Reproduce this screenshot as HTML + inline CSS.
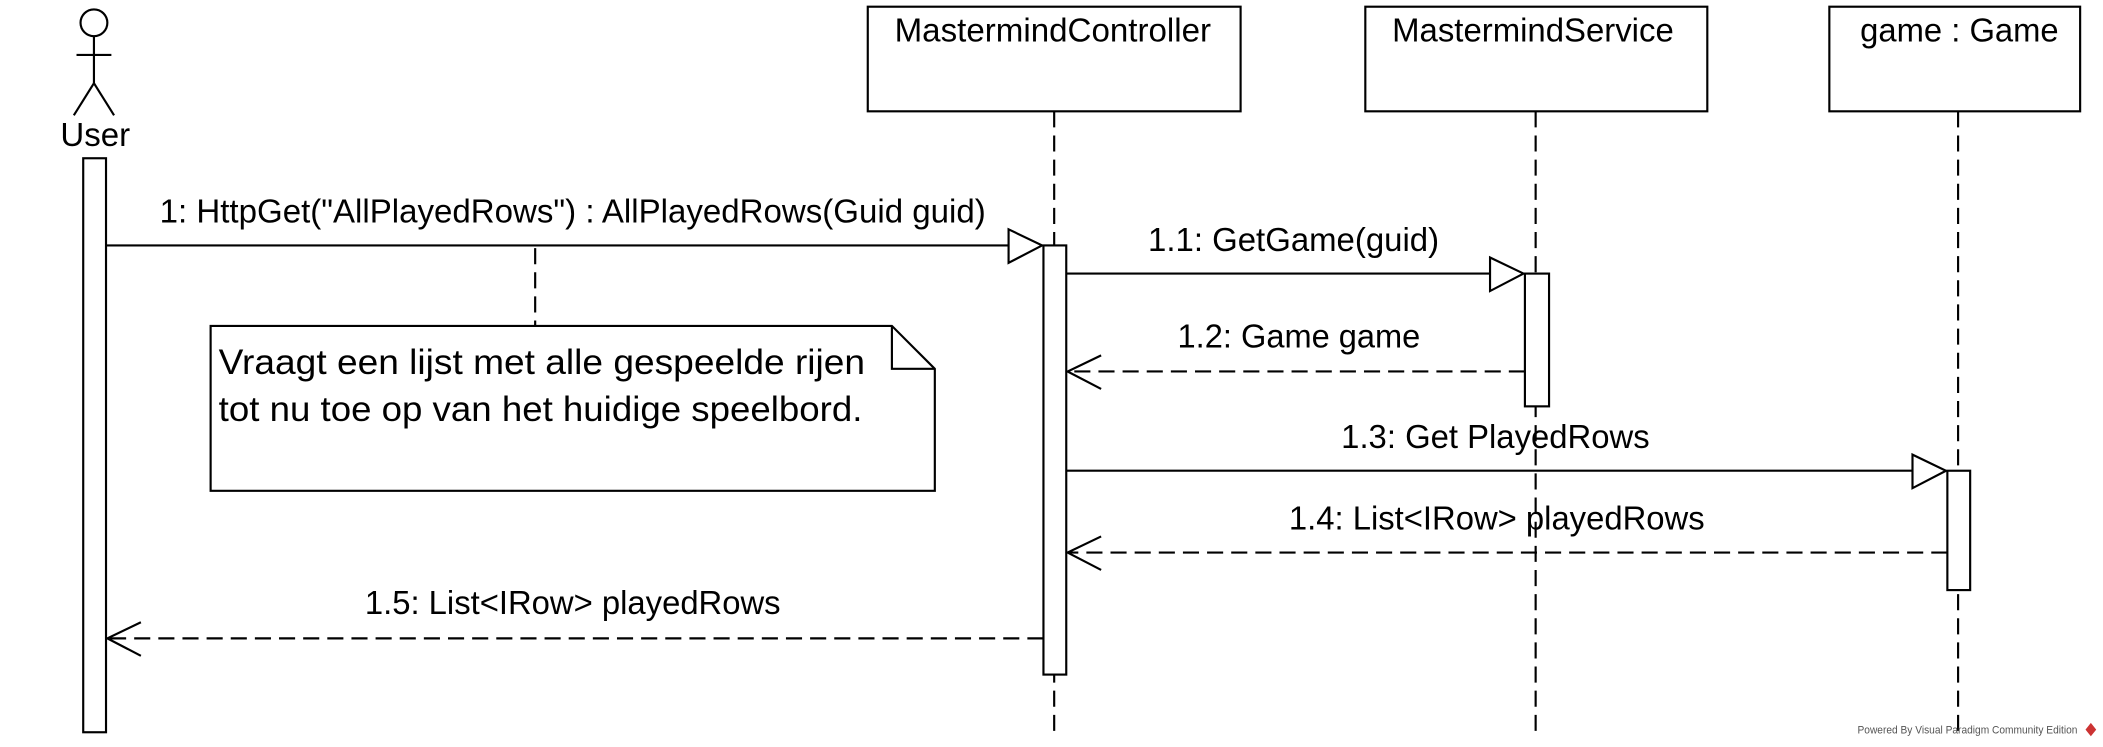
<!DOCTYPE html>
<html><head><meta charset="utf-8"><style>html,body{margin:0;padding:0;background:#fff}svg{display:block}</style></head>
<body>
<svg width="2103" height="747" viewBox="0 0 1568 557" xmlns="http://www.w3.org/2000/svg" font-family="Liberation Sans, sans-serif">
<rect width="1568" height="557" fill="#fff"/>
<g stroke="#000" stroke-width="1.6" fill="none">
<circle cx="70" cy="17" r="10"/>
<line x1="70" y1="27" x2="70" y2="62"/>
<line x1="57" y1="41" x2="83" y2="41"/>
<line x1="70" y1="62" x2="55" y2="86"/>
<line x1="70" y1="62" x2="85" y2="86"/>
<rect x="647" y="5" width="278" height="78" fill="#fff"/>
<rect x="1018" y="5" width="255" height="78" fill="#fff"/>
<rect x="1364" y="5" width="187" height="78" fill="#fff"/>
<g stroke-dasharray="12,6">
<line x1="786" y1="83" x2="786" y2="545"/>
<line x1="1145" y1="83" x2="1145" y2="545"/>
<line x1="1460" y1="83" x2="1460" y2="545"/>
<line x1="399" y1="185" x2="399" y2="243"/>
</g>
<rect x="62" y="118" width="17" height="428" fill="#fff"/>
<rect x="778" y="183" width="17" height="320" fill="#fff"/>
<rect x="1137" y="204" width="18" height="99" fill="#fff"/>
<rect x="1452" y="351" width="17" height="89" fill="#fff"/>
<path d="M157 243 H665 L697 275 V366 H157 Z" fill="#fff"/>
<path d="M665 243 V275 H697"/>
<line x1="79" y1="183" x2="752" y2="183"/>
<path d="M752 171 L777 183 L752 196 Z" fill="#fff"/>
<line x1="795" y1="204" x2="1111" y2="204"/>
<path d="M1111 192 L1136 204 L1111 217 Z" fill="#fff"/>
<line x1="795" y1="351" x2="1426" y2="351"/>
<path d="M1426 339 L1451 351 L1426 364 Z" fill="#fff"/>
<g stroke-dasharray="12,6">
<line x1="1137" y1="277" x2="797" y2="277"/>
<line x1="1452" y1="412" x2="797" y2="412"/>
<line x1="778" y1="476" x2="81" y2="476"/>
</g>
<path d="M821 265 L796 277 L821 290"/>
<path d="M821 400 L796 412 L821 425"/>
<path d="M105 464 L80 476 L105 489"/>
</g>
<g font-size="25" fill="#000" lengthAdjust="spacingAndGlyphs">
<text x="45" y="109" textLength="52" lengthAdjust="spacingAndGlyphs">User</text>
<text x="667" y="31" textLength="236" lengthAdjust="spacingAndGlyphs">MastermindController</text>
<text x="1038" y="31" textLength="210" lengthAdjust="spacingAndGlyphs">MastermindService</text>
<text x="1387" y="31" textLength="148" lengthAdjust="spacingAndGlyphs">game : Game</text>
<text x="119" y="166" textLength="616" lengthAdjust="spacingAndGlyphs">1: HttpGet("AllPlayedRows") : AllPlayedRows(Guid guid)</text>
<text x="856" y="187" textLength="217" lengthAdjust="spacingAndGlyphs">1.1: GetGame(guid)</text>
<text x="878" y="259" textLength="181" lengthAdjust="spacingAndGlyphs">1.2: Game game</text>
<text x="1000" y="334" textLength="230" lengthAdjust="spacingAndGlyphs">1.3: Get PlayedRows</text>
<text x="961" y="395" textLength="310" lengthAdjust="spacingAndGlyphs">1.4: List&lt;IRow&gt; playedRows</text>
<text x="272" y="458" textLength="310" lengthAdjust="spacingAndGlyphs">1.5: List&lt;IRow&gt; playedRows</text>
<text x="163" y="279" font-size="26" textLength="482" lengthAdjust="spacingAndGlyphs">Vraagt een lijst met alle gespeelde rijen</text>
<text x="163" y="314" font-size="26" textLength="480" lengthAdjust="spacingAndGlyphs">tot nu toe op van het huidige speelbord.</text>
</g>
<text x="1385" y="547" font-size="8" fill="#555" textLength="164" lengthAdjust="spacingAndGlyphs">Powered By Visual Paradigm Community Edition</text>
<path d="M1559 539 l4 5 l-4 5 l-4 -5 Z" fill="#c33"/>
</svg>
</body></html>
